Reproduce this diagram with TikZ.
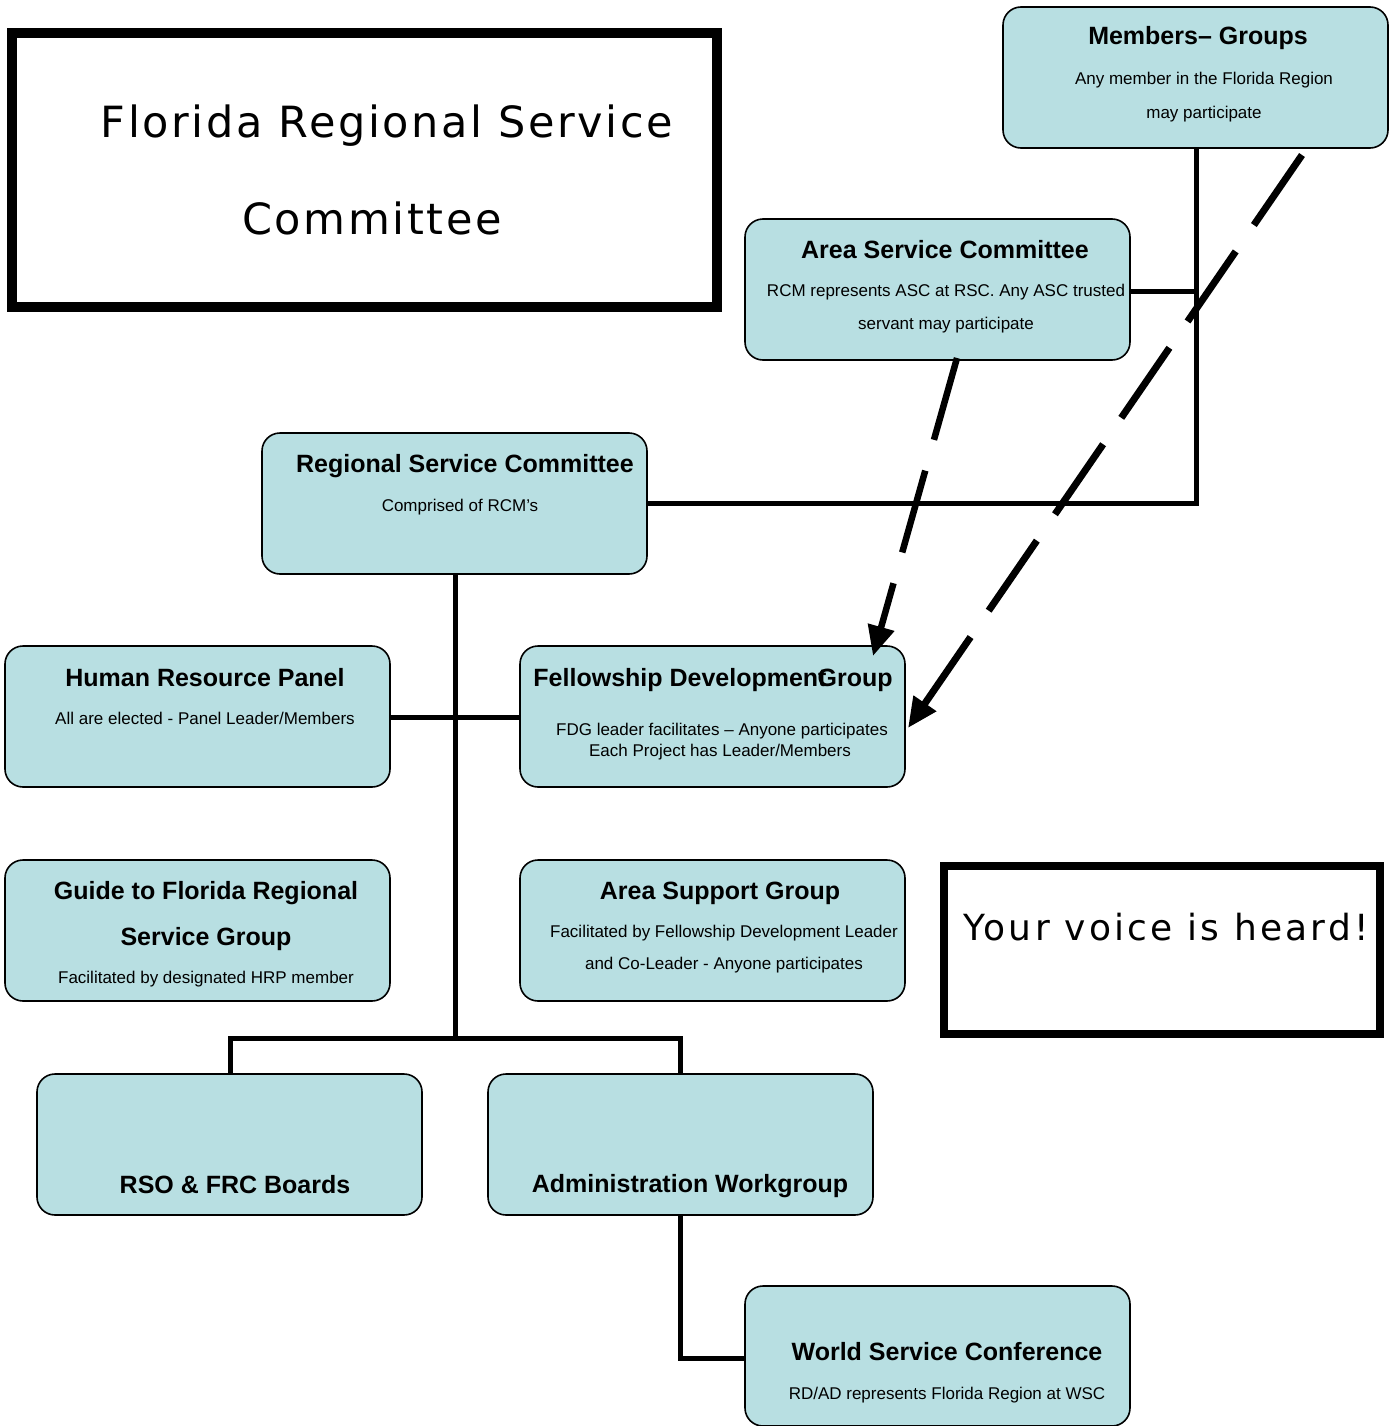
\documentclass[tikz,border=0pt]{standalone}
\usepackage{fontspec}
\setmainfont{Liberation Sans}
\newfontfamily\bigfont[LetterSpace=6]{DejaVu Sans}
\newfontfamily\voicefont[LetterSpace=9]{DejaVu Sans}
\usetikzlibrary{arrows.meta}
\definecolor{boxfill}{RGB}{184,223,226}
\tikzset{
  orgbox/.style={draw=black, line width=1.6pt, rounded corners=18pt, fill=boxfill,
    minimum width=385pt, minimum height=141pt, anchor=north west, inner sep=0pt, outer sep=0pt},
  framebox/.style={draw=black, anchor=north west, inner sep=0pt, outer sep=0pt, fill=white},
  ttl/.style={inner sep=0pt, anchor=base, font=\fontsize{25}{28}\selectfont\bfseries},
  sub/.style={inner sep=0pt, anchor=base, font=\fontsize{17}{20}\selectfont},
  link/.style={line width=5pt, line cap=rect},
  dashlink/.style={line width=6.5pt, dash pattern=on 85pt off 32pt,
    -{Triangle[length=30pt,width=26pt]}},
}
\begin{document}
\begin{tikzpicture}[x=1pt,y=-1pt]
\useasboundingbox (0,0) rectangle (1394,1426);

% frame boxes
\node[framebox, line width=10pt, minimum width=705pt, minimum height=274pt] (tbox) at (12,33) {};
\node[inner sep=0pt, anchor=base, font=\bigfont\fontsize{43}{50}\selectfont] (t1) at (387,138) {Florida Regional Service};
\node[inner sep=0pt, anchor=base, font=\bigfont\fontsize{43}{50}\selectfont] (t2) at (372,234) {Committee};

\node[framebox, line width=8pt, minimum width=436pt, minimum height=168pt] (vbox) at (944,866) {};
\node[inner sep=0pt, anchor=base, font=\voicefont\fontsize{36}{42}\selectfont] (vt) at (1166,940) {Your voice is heard!};

% connectors (behind boxes)
\coordinate (mj) at (1196,503);
\draw[link] (1196,148) -- (mj) -- (648,503);
\draw[link] (1130,291) -- (1196,291);
\draw[link] (455,575) -- (455,1038);
\draw[link] (390,717) -- (520,717);
\draw[link] (230,1074) -- (230,1038) -- (680,1038) -- (680,1074);
\draw[link] (680,1216) -- (680,1358) -- (745,1358);

% boxes
\node[orgbox] (mem) at (1003,7) {};
\node[ttl] (memt) at (1198,45) {Members– Groups};
\node[sub] (mems1) at (1204,85) {Any member in the Florida Region};
\node[sub] (mems2) at (1204,118) {may participate};

\node[orgbox] (asc) at (745,219) {};
\node[ttl] (asct) at (945,258) {Area Service Committee};
\node[sub] (ascs1) at (946,296) {RCM represents ASC at RSC. Any ASC trusted};
\node[sub] (ascs2) at (946,329) {servant may participate};

\node[orgbox] (rsc) at (262,433) {};
\node[ttl] (rsct) at (465,472) {Regional Service Committee};
\node[sub] (rscs) at (460,511) {Comprised of RCM’s};

\node[orgbox] (hrp) at (5,646) {};
\node[ttl] (hrpt) at (205,686) {Human Resource Panel};
\node[sub] (hrps) at (205,724) {All are elected - Panel Leader/Members};

\node[orgbox] (fdg) at (520,646) {};
\node[ttl] (fdgt) at (713,686) {Fellowship Development\kern-9pt Group};
\node[sub] (fdgs1) at (722,735) {FDG leader facilitates – Anyone participates};
\node[sub] (fdgs2) at (720,756) {Each Project has Leader/Members};

\node[orgbox] (gui) at (5,860) {};
\node[ttl] (guit1) at (206,899) {Guide to Florida Regional};
\node[ttl] (guit2) at (206,945) {Service Group};
\node[sub] (guis) at (206,983) {Facilitated by designated HRP member};

\node[orgbox] (asg) at (520,860) {};
\node[ttl] (asgt) at (720,899) {Area Support Group};
\node[sub] (asgs1) at (724,937) {Facilitated by Fellowship Development Leader};
\node[sub] (asgs2) at (724,969) {and Co-Leader - Anyone participates};

\node[orgbox] (rso) at (37,1074) {};
\node[ttl] (rsot) at (235,1193) {RSO \& FRC Boards};

\node[orgbox] (adm) at (488,1074) {};
\node[ttl] (admt) at (690,1192) {Administration Workgroup};

\node[orgbox, minimum height=140pt] (wsc) at (745,1286) {};
\node[ttl] (wsct) at (947,1360) {World Service Conference};
\node[sub] (wscs) at (947,1399) {RD/AD represents Florida Region at WSC};

% dashed arrows
\coordinate (d1s) at (957,358);
\coordinate (d1e) at (873,656);
\coordinate (d2s) at (1302,155);
\coordinate (d2e) at (908,728);
\draw[dashlink] (d1s) -- (d1e);
\draw[dashlink, line width=7pt] (d2s) -- (d2e);
\end{tikzpicture}
\end{document}
